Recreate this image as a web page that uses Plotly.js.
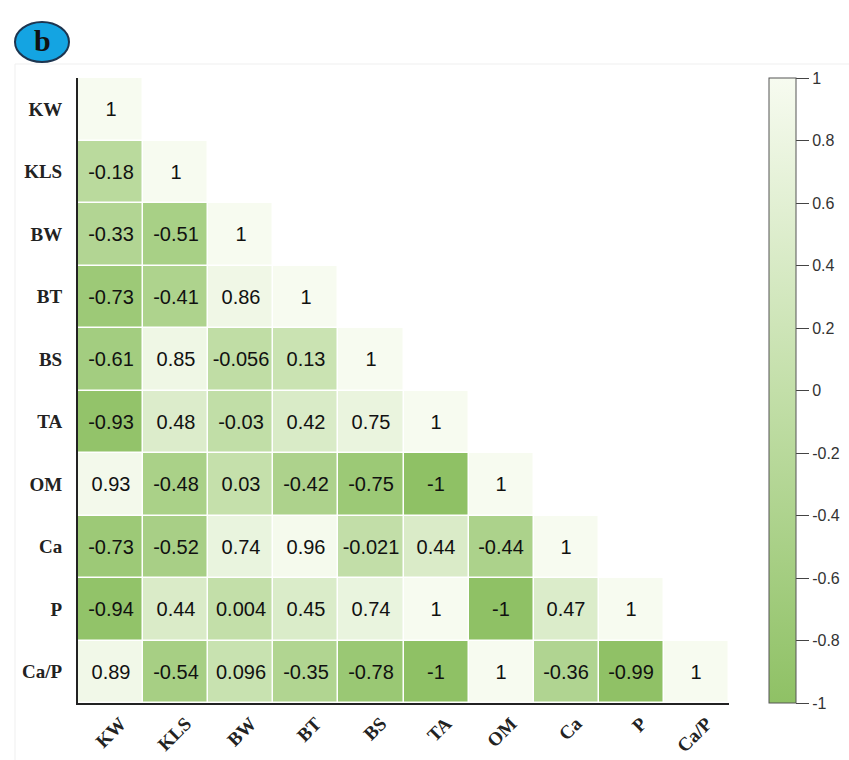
<!DOCTYPE html>
<html>
<head>
<meta charset="utf-8">
<script src="https://cdn.plot.ly/plotly-3.0.1.min.js"></script>
<style>html,body{margin:0;padding:0;background:#fff;}</style>
</head>
<body>
<div id="chart" style="width:849px;height:760px;"></div>
<script>
// Variables (rows top-to-bottom, columns left-to-right)
const variables = ["KW", "KLS", "BW", "BT", "BS", "TA", "OM", "Ca", "P", "Ca/P"];

// Lower-triangle correlation rows (including diagonal)
const rowKW   = [1];
const rowKLS  = [-0.18, 1];
const rowBW   = [-0.33, -0.51, 1];
const rowBT   = [-0.73, -0.41, 0.86, 1];
const rowBS   = [-0.61, 0.85, -0.056, 0.13, 1];
const rowTA   = [-0.93, 0.48, -0.03, 0.42, 0.75, 1];
const rowOM   = [0.93, -0.48, 0.03, -0.42, -0.75, -1, 1];
const rowCa   = [-0.73, -0.52, 0.74, 0.96, -0.021, 0.44, -0.44, 1];
const rowP    = [-0.94, 0.44, 0.004, 0.45, 0.74, 1, -1, 0.47, 1];
const rowCaP  = [0.89, -0.54, 0.096, -0.35, -0.78, -1, 1, -0.36, -0.99, 1];

// Colorbar ticks
const cbTickVals = [-1, -0.8, -0.6, -0.4, -0.2, 0, 0.2, 0.4, 0.6, 0.8, 1];
const cbTickText = ["-1", "-0.8", "-0.6", "-0.4", "-0.2", "0", "0.2", "0.4", "0.6", "0.8", "1"];

const rows = [rowKW, rowKLS, rowBW, rowBT, rowBS, rowTA, rowOM, rowCa, rowP, rowCaP];
const n = variables.length;
const z = rows.map(r => { const out = r.slice(); while (out.length < n) out.push(null); return out; });
const text = rows.map(r => { const out = r.map(v => String(v)); while (out.length < n) out.push(""); return out; });

const trace = {
  type: "heatmap",
  x: variables,
  y: variables,
  z: z,
  text: text,
  texttemplate: "%{text}",
  textfont: {family: "Liberation Sans, Arial, sans-serif", size: 20, color: "#111"},
  zmin: -1, zmax: 1,
  colorscale: [[0, "#8fc165"], [0.5, "#c3dfa9"], [1, "#f7fbf0"]],
  xgap: 1.5, ygap: 1.5,
  hoverongaps: false,
  colorbar: {
    x: 1.0614, xanchor: "left", xpad: 0,
    y: 0, yanchor: "bottom", ypad: 0,
    len: 625, lenmode: "pixels",
    thickness: 27, thicknessmode: "pixels",
    outlinewidth: 1, outlinecolor: "#555",
    tickmode: "array", tickvals: cbTickVals, ticktext: cbTickText,
    ticks: "outside", ticklen: 13, tickwidth: 1, tickcolor: "#444",
    tickfont: {family: "Liberation Sans, Arial, sans-serif", size: 16, color: "#333"}
  }
};

const W = 651, H = 625, L = 78, T = 78;
const px = v => (v - L) / W;
const py = v => (T + H - v) / H;

const layout = {
  width: 849, height: 760,
  margin: {l: 78, r: 120, t: 78, b: 57, autoexpand: false},
  paper_bgcolor: "#ffffff",
  plot_bgcolor: "#ffffff",
  xaxis: {
    type: "category",
    showgrid: false, zeroline: false,
    showline: true, linecolor: "#222", linewidth: 2,
    ticks: "", tickangle: -45,
    ticklabelshift: 10, ticklabelstandoff: 0,
    tickfont: {family: "Liberation Serif, Times New Roman, serif", size: 19, color: "#222", weight: "bold"},
    fixedrange: true
  },
  yaxis: {
    type: "category",
    autorange: "reversed",
    showgrid: false, zeroline: false,
    showline: true, linecolor: "#222", linewidth: 2,
    ticks: "", ticklabelstandoff: 10,
    tickfont: {family: "Liberation Serif, Times New Roman, serif", size: 19, color: "#222", weight: "bold"},
    fixedrange: true
  },
  shapes: [
    {type: "rect", xref: "paper", yref: "paper", layer: "below",
     x0: px(15), x1: px(860), y0: py(780), y1: py(64),
     line: {color: "#efefef", width: 1}, fillcolor: "rgba(0,0,0,0)"},
    {type: "circle", xref: "paper", yref: "paper",
     x0: px(15), x1: px(69), y0: py(62), y1: py(22),
     line: {color: "#1d3550", width: 2}, fillcolor: "#14a4e2"}
  ],
  annotations: [
    {xref: "paper", yref: "paper", x: px(42), y: py(40), showarrow: false,
     text: "b", xanchor: "center", yanchor: "middle",
     font: {family: "Liberation Serif, Times New Roman, serif", size: 30, color: "#111", weight: "bold"}}
  ]
};

Plotly.newPlot("chart", [trace], layout, {displayModeBar: false, staticPlot: true});
</script>
</body>
</html>
